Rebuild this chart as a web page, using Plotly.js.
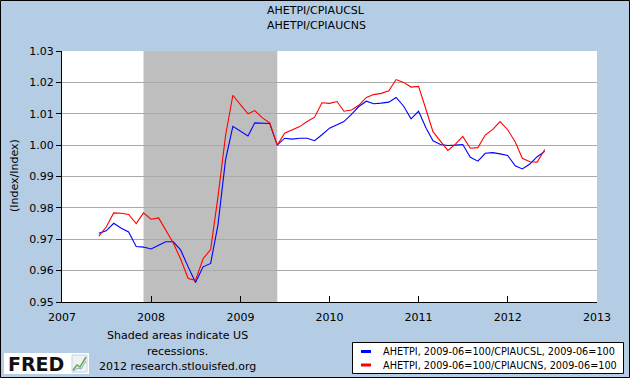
<!DOCTYPE html>
<html>
<head>
<meta charset="utf-8">
<script src="https://cdn.plot.ly/plotly-3.0.1.min.js"></script>
<style>
  html, body { margin: 0; padding: 0; background: #ffffff; }
  #chart { width: 630px; height: 378px; }
</style>
</head>
<body>
<div id="chart"></div>
<script>
// ---- data (monthly) ----
const months = [
  '2007-06-01','2007-07-01','2007-08-01','2007-09-01','2007-10-01','2007-11-01','2007-12-01',
  '2008-01-01','2008-02-01','2008-03-01','2008-04-01','2008-05-01','2008-06-01','2008-07-01',
  '2008-08-01','2008-09-01','2008-10-01','2008-11-01','2008-12-01','2009-01-01','2009-02-01',
  '2009-03-01','2009-04-01','2009-05-01','2009-06-01','2009-07-01','2009-08-01','2009-09-01',
  '2009-10-01','2009-11-01','2009-12-01','2010-01-01','2010-02-01','2010-03-01','2010-04-01',
  '2010-05-01','2010-06-01','2010-07-01','2010-08-01','2010-09-01','2010-10-01','2010-11-01',
  '2010-12-01','2011-01-01','2011-02-01','2011-03-01','2011-04-01','2011-05-01','2011-06-01',
  '2011-07-01','2011-08-01','2011-09-01','2011-10-01','2011-11-01','2011-12-01','2012-01-01',
  '2012-02-01','2012-03-01','2012-04-01','2012-05-01','2012-06-01'
];
const cpiaucsl = [
  0.9719,0.9727,0.9751,0.9735,0.9723,0.9677,0.9675,
  0.9669,0.9681,0.9692,0.9692,0.9666,0.9612,0.9562,
  0.9612,0.9623,0.9746,0.9953,1.0060,1.0045,1.0029,
  1.0071,1.0069,1.0069,1.0000,1.0022,1.0019,1.0022,
  1.0022,1.0014,1.0033,1.0054,1.0065,1.0075,1.0098,
  1.0123,1.0140,1.0132,1.0134,1.0137,1.0152,1.0124,
  1.0084,1.0108,1.0054,1.0014,1.0002,0.9999,1.0000,
  1.0002,0.9961,0.9949,0.9974,0.9976,0.9972,0.9967,
  0.9934,0.9924,0.9940,0.9963,0.9980
];
const cpiaucns = [
  0.9710,0.9739,0.9784,0.9783,0.9779,0.9750,0.9784,
  0.9764,0.9768,0.9731,0.9688,0.9637,0.9575,0.9569,
  0.9638,0.9667,0.9835,1.0030,1.0159,1.0129,1.0100,
  1.0110,1.0087,1.0071,1.0000,1.0038,1.0049,1.0059,
  1.0075,1.0089,1.0135,1.0133,1.0139,1.0108,1.0112,
  1.0127,1.0152,1.0161,1.0165,1.0173,1.0209,1.0200,
  1.0185,1.0187,1.0112,1.0043,1.0012,0.9983,1.0003,
  1.0028,0.9990,0.9992,1.0032,1.0050,1.0075,1.0049,
  1.0010,0.9958,0.9947,0.9946,0.9986
];
const seriesNames = [
  'AHETPI, 2009-06=100/CPIAUCSL, 2009-06=100',
  'AHETPI, 2009-06=100/CPIAUCNS, 2009-06=100'
];
const recession = ['2007-12-01', '2009-06-01'];
const titleLines = ['AHETPI/CPIAUCSL', 'AHETPI/CPIAUCNS'];
const yTitle = '(Index/Index)';
const noteLines = ['Shaded areas indicate US', 'recessions.', '2012 research.stlouisfed.org'];

// ---- layout helpers (pixel -> paper) ----
const W = 630, H = 378, ML = 62, MR = 33, MT = 51, MB = 76;
const PW = W - ML - MR, PH = H - MT - MB;
const px = x => (x - ML) / PW;
const py = y => (H - MB - y) / PH;
const FONT = 'DejaVu Sans, Verdana, sans-serif';
const BG = '#b4cde5';

const traces = [
  { x: months, y: cpiaucsl, type: 'scatter', mode: 'lines', name: seriesNames[0],
    line: { color: '#0000ff', width: 1.1 }, showlegend: false },
  { x: months, y: cpiaucns, type: 'scatter', mode: 'lines', name: seriesNames[1],
    line: { color: '#ff0000', width: 1.1 }, showlegend: false }
];

const shapes = [
  { type: 'rect', xref: 'x', yref: 'paper', x0: recession[0], x1: recession[1], y0: 0, y1: 1,
    fillcolor: '#bebebe', line: { width: 0 }, layer: 'between' },
  // outer border
  { type: 'rect', xref: 'paper', yref: 'paper', x0: px(0.5), x1: px(629.5), y0: py(0.5), y1: py(377.5),
    line: { color: '#000000', width: 1 }, fillcolor: 'rgba(0,0,0,0)', layer: 'above' },
  // legend box
  { type: 'rect', xref: 'paper', yref: 'paper', x0: px(352.5), x1: px(623.5), y0: py(342.5), y1: py(373.5),
    line: { color: '#000000', width: 1 }, fillcolor: '#ffffff', layer: 'above' },
  { type: 'line', xref: 'paper', yref: 'paper', x0: px(361), x1: px(371), y0: py(351.5), y1: py(351.5),
    line: { color: '#0000ff', width: 3 }, layer: 'above' },
  { type: 'line', xref: 'paper', yref: 'paper', x0: px(361), x1: px(371), y0: py(365), y1: py(365),
    line: { color: '#ff0000', width: 3 }, layer: 'above' },
  // FRED logo box
  { type: 'rect', xref: 'paper', yref: 'paper', x0: px(4), x1: px(89), y0: py(353), y1: py(374),
    line: { width: 0 }, fillcolor: '#ffffff', layer: 'above' },
  // little chart icon
  { type: 'rect', xref: 'paper', yref: 'paper', x0: px(72), x1: px(87), y0: py(355), y1: py(372),
    line: { color: '#c8d4dc', width: 1 }, fillcolor: '#eef2f5', layer: 'above' },
  { type: 'path', xref: 'paper', yref: 'paper', layer: 'above',
    path: `M ${px(73)} ${py(370)} L ${px(77)} ${py(365)} L ${px(80)} ${py(367)} L ${px(86)} ${py(357)}`,
    line: { color: '#6aa84f', width: 1.5 } },
  { type: 'path', xref: 'paper', yref: 'paper', layer: 'above',
    path: `M ${px(73)} ${py(371)} L ${px(78)} ${py(368)} L ${px(81)} ${py(369)} L ${px(86)} ${py(361)}`,
    line: { color: '#7fa7c9', width: 1 } }
];

function note(text, x, y, opts) {
  return Object.assign({ text: text, xref: 'paper', yref: 'paper', x: px(x), y: py(y),
    xanchor: 'center', yanchor: 'middle', showarrow: false,
    font: { family: FONT, size: 11, color: '#000' } }, opts || {});
}

const annotations = [
  note(titleLines[0], 316, 11),
  note(titleLines[1], 316, 25),
  note(yTitle, 14, 176, { textangle: -90 }),
  note(noteLines[0], 177, 336),
  note(noteLines[1], 177, 351),
  note(noteLines[2], 177, 366),
  note(seriesNames[0], 381, 351.5, { xanchor: 'left', font: { family: FONT, size: 9.7, color: '#000' } }),
  note(seriesNames[1], 381, 365, { xanchor: 'left', font: { family: FONT, size: 9.7, color: '#000' } }),
  note('<b>FRED</b>', 6, 364, { xanchor: 'left', font: { family: 'DejaVu Sans, sans-serif', size: 19, color: '#111' } })
];

const layout = {
  width: W, height: H,
  margin: { l: ML, r: MR, t: MT, b: MB, pad: 0 },
  paper_bgcolor: BG, plot_bgcolor: '#ffffff',
  font: { family: FONT, size: 11, color: '#000' },
  xaxis: {
    type: 'date', range: ['2007-01-01', '2013-01-01'], dtick: 'M12', tick0: '2007-01-01',
    tickformat: '%Y', ticks: 'inside', ticklen: 6, tickcolor: '#000', tickwidth: 1,
    ticklabelstandoff: 5,
    showline: true, linecolor: '#000', linewidth: 1, showgrid: false, zeroline: false,
    tickfont: { family: FONT, size: 11, color: '#000' }, fixedrange: true
  },
  yaxis: {
    range: [0.95, 1.03], dtick: 0.01, tick0: 0.95, tickformat: '.2f',
    ticks: 'outside', ticklen: 5, tickcolor: '#000', tickwidth: 1,
    showline: true, linecolor: '#000', linewidth: 1,
    showgrid: true, gridcolor: '#aaaaaa', gridwidth: 1, zeroline: false,
    tickfont: { family: FONT, size: 11, color: '#000' }, fixedrange: true
  },
  showlegend: false,
  shapes: shapes,
  annotations: annotations
};

Plotly.newPlot('chart', traces, layout, { displayModeBar: false, staticPlot: true });
</script>
</body>
</html>
